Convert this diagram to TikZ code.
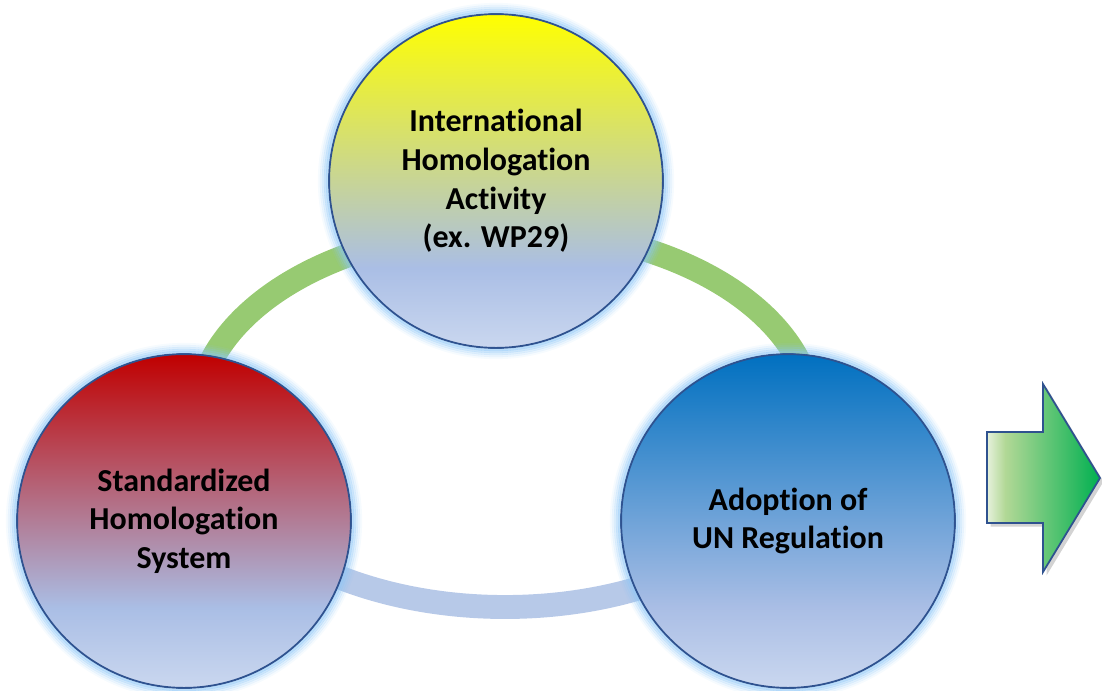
\documentclass[tikz,border=0pt]{standalone}
\usepackage{fontspec}
\setmainfont{Carlito}[Ligatures=NoCommon]
\usetikzlibrary{shadows}

\definecolor{rim}{HTML}{2F528F}
\definecolor{halo}{HTML}{8CC6F7}
\definecolor{skyfill}{HTML}{AABEE5}
\definecolor{palesky}{HTML}{CAD7EF}
\definecolor{ballyellow}{HTML}{FFFF00}
\definecolor{ballred}{HTML}{C00000}
\definecolor{ballblue}{HTML}{0070C0}
\definecolor{ringgreen}{HTML}{97CA72}
\definecolor{ringblue}{HTML}{B7C9E8}
\definecolor{arrowpale}{HTML}{E6F1DC}
\definecolor{arrowlight}{HTML}{B2D896}
\definecolor{arrowdeep}{HTML}{00B050}

\pgfdeclareverticalshading{yellowball}{100bp}{color(0bp)=(palesky); color(25bp)=(palesky);
  color(37bp)=(skyfill); color(75bp)=(ballyellow); color(100bp)=(ballyellow)}
\pgfdeclareverticalshading{redball}{100bp}{color(0bp)=(palesky); color(25bp)=(palesky);
  color(37bp)=(skyfill); color(75bp)=(ballred); color(100bp)=(ballred)}
\pgfdeclareverticalshading{blueball}{100bp}{color(0bp)=(palesky); color(25bp)=(palesky);
  color(37bp)=(skyfill); color(75bp)=(ballblue); color(100bp)=(ballblue)}
\pgfdeclarehorizontalshading{greenarrow}{100bp}{color(0bp)=(arrowpale); color(25bp)=(arrowpale);
  color(33bp)=(arrowlight); color(75bp)=(arrowdeep); color(100bp)=(arrowdeep)}

\begin{document}
\begin{tikzpicture}
  [x=0.02cm,y=-0.02cm,
   ball/.style={circle,draw=rim,line width=1.1pt,minimum size=6.68cm,inner sep=0pt,
     align=center,font=\bfseries\fontsize{18.2}{22}\selectfont},
   band/.style={line width=13.6pt},
   glow/.style={draw=halo,draw opacity=#1,line width=1.3pt},
   bigarrow/.style={draw=rim,line width=1pt,line join=miter,shading=greenarrow,
     drop shadow={shadow xshift=2pt,shadow yshift=-2pt,opacity=.35}}]
  \useasboundingbox (0,0) rectangle (1102,690);

  % ring behind the three circles
  \draw[band,ringgreen] (197,418) arc[start angle=180,end angle=360,x radius=308,y radius=189];
  \draw[band,ringblue] (813,418) arc[start angle=0,end angle=180,x radius=308,y radius=189];

  \node[ball,shading=yellowball] (wp)  at (496,181) {International\\Homologation\\Activity\\(ex. WP29)};
  \node[ball,shading=redball]    (sys) at (184,521) {Standardized\\Homologation\\System};
  \node[ball,shading=blueball]   (un)  at (788,521) {Adoption of\\UN Regulation};

  \foreach \b in {wp,sys,un}
    \foreach \r/\o in {169/.6,171/.45,173/.3,175/.18,177/.08}
      \draw[glow=\o] (\b.center) circle[radius=\r];

  \draw[bigarrow] (987,432) -- (1043,432) -- (1043,384) -- (1100,478)
    -- (1043,572) -- (1043,523) -- (987,523) -- cycle;
\end{tikzpicture}
\end{document}
